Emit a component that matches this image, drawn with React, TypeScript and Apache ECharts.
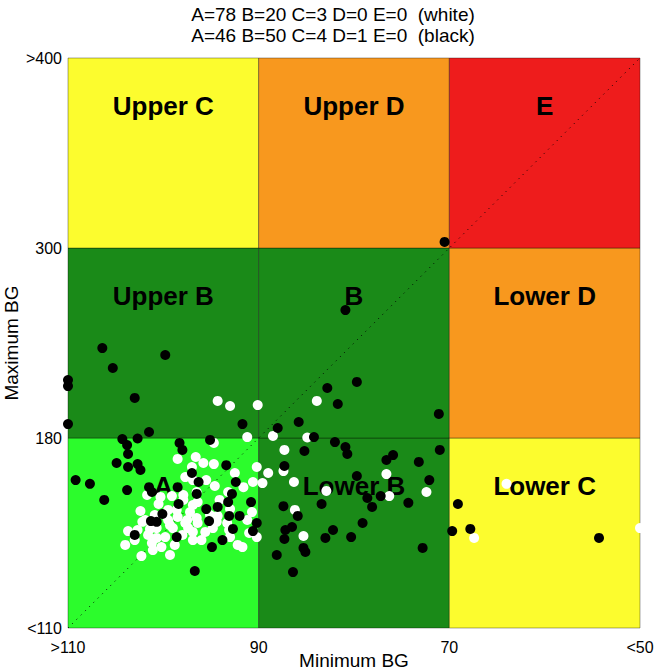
import React, { useEffect, useRef } from "react";
import * as echarts from "echarts";

// Axis breakpoints (grid lines) and their tick labels
const xBreaks = [110, 90, 70, 50]; // Minimum BG, left to right
const xTickLabels = [">110", "90", "70", "<50"];
const yBreaks = [110, 180, 300, 400]; // Maximum BG, bottom to top
const yTickLabels = ["<110", "180", "300", ">400"];

const titleLines = [
  "A=78 B=20 C=3 D=0 E=0  (white)",
  "A=46 B=50 C=4 D=1 E=0  (black)",
];

// Zones: name, column (0..2 left->right), row (0..2 bottom->top), colour
const zoneNames = ["A", "Lower B", "Lower C", "Upper B", "B", "Lower D", "Upper C", "Upper D", "E"];
const zoneCols = [0, 1, 2, 0, 1, 2, 0, 1, 2];
const zoneRows = [0, 0, 0, 1, 1, 1, 2, 2, 2];
const zoneColors = [
  "#2cfc2c", "#1a8a18", "#fcfc2e",
  "#1a8a18", "#1a8a18", "#f8981e",
  "#fcfc2e", "#f8981e", "#ee1c1c",
];

// [minimum BG, maximum BG] in mg/dL
const whitePoints: [number, number][] = [
  [94.7, 178.2], [96.6, 173.0], [98.5, 172.3], [95.8, 170.8], [94.7, 170.4], [97.0, 169.3],
  [92.5, 167.1], [90.6, 163.8], [90.2, 169.3], [96.9, 164.5], [97.7, 165.6], [94.6, 162.3],
  [91.6, 161.9], [96.5, 160.1], [97.9, 159.0], [99.1, 158.6], [100.5, 155.7], [101.7, 159.0],
  [100.3, 158.3], [93.2, 160.1], [97.9, 157.2], [96.4, 156.4], [96.9, 155.3], [102.4, 153.1],
  [102.2, 149.1], [103.7, 145.7], [100.7, 143.2], [100.2, 139.8], [104.0, 140.6], [102.3, 136.5],
  [101.4, 146.5], [99.3, 147.9], [97.5, 149.8], [97.4, 146.8], [99.5, 153.5], [98.5, 150.9],
  [98.6, 153.5], [97.2, 152.7], [96.5, 150.5], [93.0, 153.8], [90.7, 152.7], [91.2, 149.8],
  [94.3, 151.3], [101.9, 149.8], [99.5, 149.8], [97.7, 148.7], [96.4, 148.7], [94.4, 149.1],
  [93.3, 148.7], [102.7, 146.1], [100.7, 146.8], [99.0, 146.8], [101.6, 144.3], [99.8, 143.5],
  [98.0, 144.3], [96.9, 145.4], [94.8, 146.8], [93.1, 146.1], [101.2, 141.3], [96.9, 142.4],
  [96.0, 142.4], [92.2, 140.6], [101.1, 138.7], [90.2, 143.5], [91.7, 139.8], [91.0, 145.0],
  [93.0, 143.5], [98.8, 140.6], [95.6, 145.4], [95.1, 151.6], [99.8, 151.6], [94.1, 157.2],
  [103.0, 142.4], [99.3, 136.9], [95.5, 164.5], [100.9, 151.6],
  [94.3, 203.4], [93.0, 200.2], [90.1, 200.8], [83.9, 203.4], [91.2, 180.6], [88.5, 181.3],
  [84.9, 180.3], [87.3, 175.6], [89.0, 167.1], [87.4, 167.8], [86.3, 163.8], [82.9, 160.5],
  [86.2, 153.5], [85.3, 143.9], [76.6, 166.7], [76.3, 158.6], [72.4, 160.1], [89.6, 163.4],
  [64.0, 163.1], [67.4, 143.2], [50.0, 146.8],
];

const blackPoints: [number, number][] = [
  [104.3, 179.6], [102.7, 179.8], [103.8, 177.4], [98.3, 178.2], [98.0, 175.6], [103.7, 174.1],
  [95.1, 179.3], [104.9, 170.8], [103.7, 169.3], [102.7, 170.4], [102.4, 168.2], [109.2, 164.5],
  [107.7, 163.1], [103.8, 160.8], [101.5, 161.9], [101.2, 160.1], [106.2, 157.2], [98.5, 161.9],
  [97.0, 167.1], [98.4, 155.7], [100.1, 152.0], [101.3, 149.4], [100.7, 149.1], [103.0, 144.3],
  [98.6, 143.5], [96.7, 131.0], [96.3, 163.8], [93.4, 170.0], [92.4, 163.8], [96.5, 159.4],
  [92.8, 159.4], [93.2, 156.4], [90.8, 156.4], [95.5, 153.8], [94.3, 154.6], [93.1, 151.3],
  [92.0, 151.3], [95.2, 149.4], [90.2, 148.7], [92.7, 146.5], [90.6, 145.7], [93.8, 142.4],
  [94.9, 139.8],
  [106.4, 236.8], [99.8, 232.4], [105.3, 224.2], [110, 216.6], [110, 212.8], [103.0, 205.3],
  [110, 188.8], [101.5, 183.8], [91.7, 188.8], [80.9, 260.8], [82.8, 211.6], [79.7, 215.4],
  [81.7, 201.5], [85.8, 190.1], [88.0, 186.3], [84.2, 180.6], [71.1, 195.2], [85.2, 175.2],
  [82.0, 178.5], [80.9, 176.7], [80.7, 174.1], [75.9, 173.7], [71.0, 175.6], [76.6, 171.9],
  [73.2, 171.2], [79.7, 166.0], [72.1, 164.5], [77.2, 158.6], [78.6, 157.9], [83.4, 155.7],
  [78.1, 154.6], [74.3, 156.1], [79.1, 148.7], [82.2, 146.1], [83.0, 143.2], [80.3, 143.5],
  [72.8, 139.5], [87.3, 169.7], [87.4, 154.9], [85.9, 151.3], [86.5, 147.2], [87.2, 146.1],
  [87.3, 142.8], [85.3, 139.5], [85.1, 138.0], [88.1, 136.9], [86.4, 130.6],
  [69.1, 155.7], [69.7, 145.7], [67.8, 146.5], [54.3, 143.2],
  [70.5, 303.2],
];

// piecewise-linear mapping of a BG value onto the 0..3 zone scale
function toScale(v: number, breaks: number[]): number {
  const inc = breaks[breaks.length - 1] > breaks[0];
  for (let i = 0; i < breaks.length - 1; i++) {
    const a = breaks[i];
    const b = breaks[i + 1];
    const inSeg = inc ? v <= b : v >= b;
    if (inSeg || i === breaks.length - 2) {
      const t = (v - a) / (b - a);
      return Math.max(0, Math.min(breaks.length - 1, i + t));
    }
  }
  return 0;
}

const FONT = "'Liberation Sans', Arial, Helvetica, sans-serif";

export default function App() {
  const ref = useRef<HTMLDivElement>(null);

  useEffect(() => {
    if (!ref.current) return;
    const chart = echarts.init(ref.current, undefined, { renderer: "svg" });

    const mapPts = (pts: [number, number][]) =>
      pts.map(([mn, mx]) => [toScale(mn, xBreaks), toScale(mx, yBreaks)]);

    const areas = zoneNames.map((_, i) => [
      {
        xAxis: zoneCols[i],
        yAxis: zoneRows[i],
        itemStyle: { color: zoneColors[i], opacity: 1, borderColor: "rgba(0,0,0,0.35)", borderWidth: 1 },
      },
      { xAxis: zoneCols[i] + 1, yAxis: zoneRows[i] + 1 },
    ]);

    const labelData = zoneNames.map((n, i) => ({
      name: n,
      value: [zoneCols[i] + 0.5, zoneRows[i] + 0.75],
    }));

    chart.setOption({
      animation: false,
      textStyle: { fontFamily: FONT },
      graphic: titleLines.map((t, i) => ({
        type: "text",
        x: 333,
        y: 14 + i * 21,
        silent: true,
        style: {
          text: t,
          fill: "#000",
          font: `19px ${FONT}`,
          align: "center",
          verticalAlign: "middle",
        },
      })),
      grid: { left: 68, top: 58, width: 572, height: 570, outerBoundsMode: "none", containLabel: false },
      xAxis: {
        type: "value",
        min: 0,
        max: 3,
        interval: 1,
        axisLine: { show: false },
        axisTick: { show: false },
        splitLine: { show: false },
        axisLabel: {
          margin: 11,
          fontSize: 16,
          color: "#000",
          fontFamily: FONT,
          showMinLabel: true,
          showMaxLabel: true,
          formatter: (v: number) => xTickLabels[Math.round(v)] ?? "",
        },
        name: "Minimum BG",
        nameLocation: "middle",
        nameGap: 23,
        nameMoveOverlap: false,
        nameTextStyle: { fontSize: 19, lineHeight: 19, color: "#000", fontFamily: FONT },
      },
      yAxis: {
        type: "value",
        min: 0,
        max: 3,
        interval: 1,
        axisLine: { show: false },
        axisTick: { show: false },
        splitLine: { show: false },
        axisLabel: {
          margin: 6,
          fontSize: 16,
          color: "#000",
          fontFamily: FONT,
          showMinLabel: true,
          showMaxLabel: true,
          formatter: (v: number) => yTickLabels[Math.round(v)] ?? "",
        },
        name: "Maximum BG",
        nameLocation: "middle",
        nameGap: 47,
        nameMoveOverlap: false,
        nameTextStyle: { fontSize: 19, lineHeight: 19, color: "#000", fontFamily: FONT },
      },
      series: [
        {
          type: "scatter",
          z: 1,
          silent: true,
          symbolSize: 1,
          itemStyle: { color: "rgba(0,0,0,0)", opacity: 1 },
          data: labelData,
          label: {
            show: true,
            position: "inside",
            formatter: (p: any) => p.name,
            fontSize: 26,
            fontWeight: "bold",
            color: "#000",
            opacity: 1,
            fontFamily: FONT,
          },
          markArea: { silent: true, data: areas, label: { show: false } },
        },
        {
          type: "line",
          z: 2,
          silent: true,
          symbol: "none",
          data: [
            [0, 0],
            [3, 3],
          ],
          lineStyle: { color: "#000", width: 1, opacity: 1, type: [1, 5] },
        },
        {
          type: "scatter",
          z: 3,
          clip: false,
          symbolSize: 10,
          itemStyle: { color: "#ffffff", opacity: 1 },
          data: mapPts(whitePoints),
        },
        {
          type: "scatter",
          z: 4,
          clip: false,
          symbolSize: 10,
          itemStyle: { color: "#000000", opacity: 1 },
          data: mapPts(blackPoints),
        },
      ],
    });

    return () => chart.dispose();
  }, []);

  return (
    <div
      ref={ref}
      style={{ position: "absolute", left: 0, top: 0, width: 656, height: 672 }}
    />
  );
}
